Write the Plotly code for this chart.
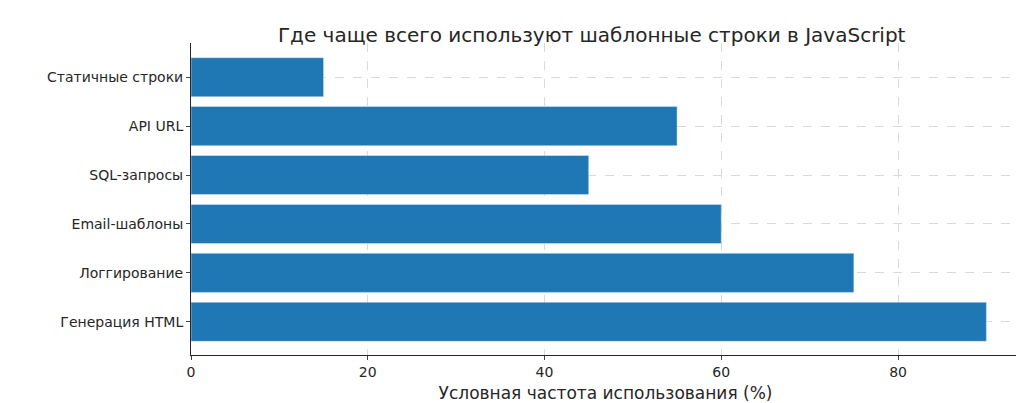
import plotly.graph_objects as go

categories = ["Генерация HTML", "Логгирование", "Email-шаблоны", "SQL-запросы", "API URL", "Статичные строки"]
values = [90, 75, 60, 45, 55, 15]

fig = go.Figure(go.Bar(x=values, y=categories, orientation="h", marker_color="#1f77b4", width=0.8))
fig.update_layout(
    width=1024, height=403, margin=dict(l=183, r=12, t=35, b=56),
    plot_bgcolor="white", paper_bgcolor="white",
    font=dict(family="DejaVu Sans", size=14, color="#262626"),
    title=dict(text="Где чаще всего используют шаблонные строки в JavaScript", x=0.57, xanchor="center", y=0.95, font=dict(size=20)),
    showlegend=False,
)
fig.update_xaxes(range=[0, 93.8], dtick=20, showgrid=True, gridcolor="#d9d9d9", griddash="dash",
                 showline=True, linecolor="#262626", ticks="outside", ticklen=4, zeroline=False,
                 title=dict(text="Условная частота использования (%)", standoff=8))
fig.update_yaxes(range=[-0.68, 5.7], showgrid=True, gridcolor="#d9d9d9", griddash="dash",
                 showline=True, linecolor="#262626", ticks="outside", ticklen=4, categoryorder="array", categoryarray=categories)
fig.write_html("out.html")
